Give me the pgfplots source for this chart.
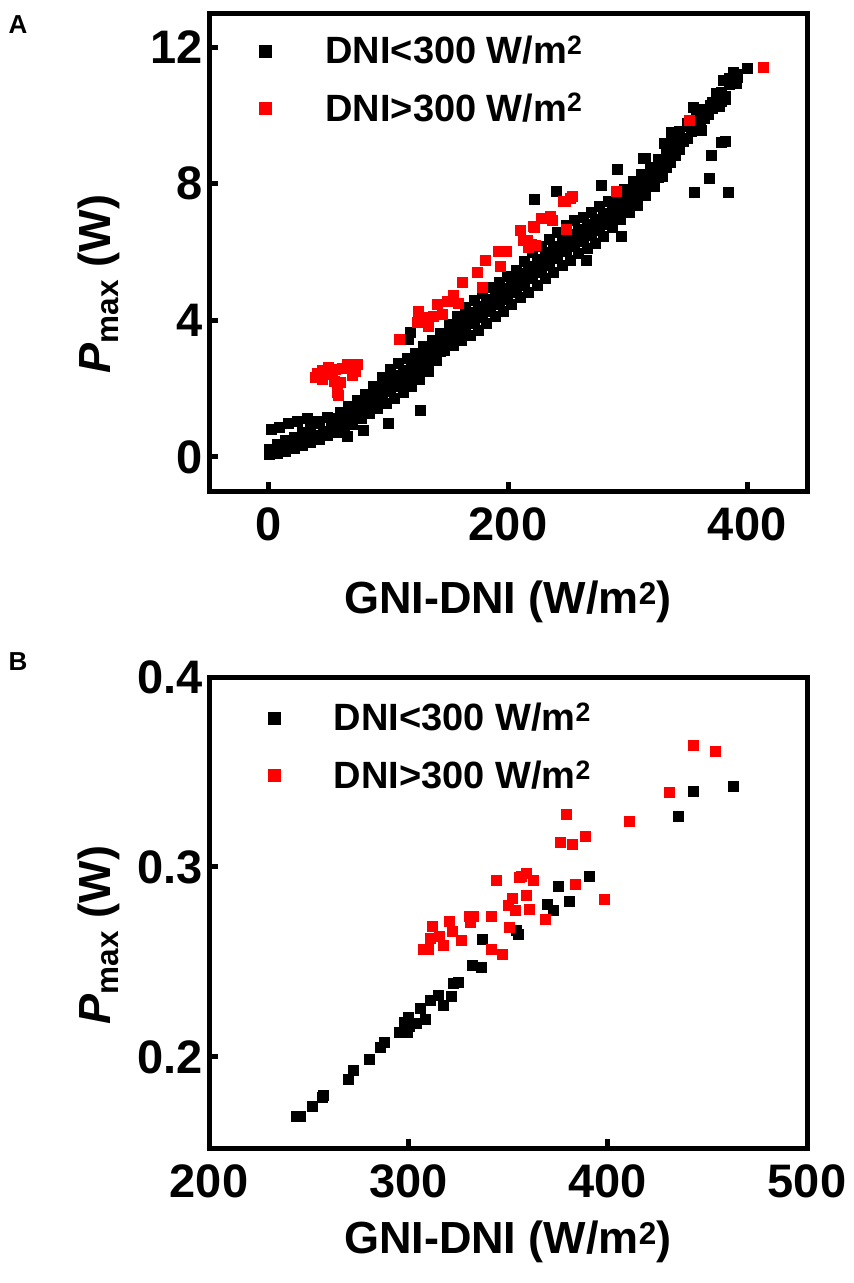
\documentclass[border=0pt]{standalone}
\usepackage{fontspec}
\setmainfont{Liberation Sans}
\usepackage{pgfplots}
\pgfplotsset{compat=1.18}

\pgfplotstableread{
x y
0 0.07
3.5 0.15
0 0.23
7 0.12
10.5 0.25
7 0.38
14 0.17
17.5 0.33
14 0.48
21 0.24
24.5 0.41
21 0.58
28 0.34
31.5 0.53
28 0.73
35 0.42
38.5 0.62
35 0.83
42 0.52
45.5 0.75
42 0.98
49 0.62
52.5 0.89
49 1.16
56 0.72
59.5 0.90
56 1.12
59.5 1.30
63 0.84
66.5 1.05
63 1.27
66.5 1.48
70 0.97
73.5 1.19
70 1.44
73.5 1.66
77 1.12
80.5 1.35
77 1.60
80.5 1.83
84 1.27
87.5 1.54
84 1.81
87.5 2.08
91 1.42
94.5 1.73
91 2.02
94.5 2.33
98 1.57
101.5 1.91
98 2.24
101.5 2.58
105 1.72
108.5 2.06
105 2.39
108.5 2.73
112 1.90
115.5 2.23
112 2.55
115.5 2.88
119 2.07
122.5 2.39
119 2.71
122.5 3.03
126 2.27
129.5 2.59
126 2.91
129.5 3.23
133 2.52
136.5 2.83
133 3.12
136.5 3.43
140 2.82
143.5 3.09
140 3.36
143.5 3.63
147 3.12
150.5 3.37
147 3.63
150.5 3.88
154 3.27
157.5 3.56
154 3.84
157.5 4.13
161 3.42
164.5 3.74
161 4.06
164.5 4.38
168 3.57
171.5 3.91
168 4.24
171.5 4.58
175 3.72
178.5 4.08
175 4.42
178.5 4.78
182 3.92
185.5 4.28
182 4.62
185.5 4.98
189 4.12
192.5 4.46
189 4.79
192.5 5.13
196 4.27
199.5 4.61
196 4.94
199.5 5.28
203 4.47
206.5 4.81
203 5.14
206.5 5.48
210 4.67
213.5 5.03
210 5.37
213.5 5.73
217 4.82
220.5 5.22
217 5.58
220.5 5.98
224 5.02
227.5 5.42
224 5.78
227.5 6.18
231 5.22
234.5 5.62
231 5.98
234.5 6.38
238 5.42
241.5 5.82
238 6.18
241.5 6.58
245 5.62
248.5 6.02
245 6.38
248.5 6.78
252 5.77
255.5 6.17
252 6.53
255.5 6.93
259 5.97
262.5 6.33
259 6.67
262.5 7.03
266 6.12
269.5 6.48
266 6.82
269.5 7.18
273 6.27
276.5 6.63
273 6.97
276.5 7.33
280 6.47
283.5 6.81
280 7.14
283.5 7.48
287 6.72
290.5 7.03
287 7.32
290.5 7.63
294 6.97
297.5 7.26
294 7.54
297.5 7.83
301 7.17
304.5 7.48
301 7.77
304.5 8.08
308 7.37
311.5 7.68
308 7.97
311.5 8.28
315 7.67
318.5 7.94
315 8.21
318.5 8.48
322 7.92
325.5 8.19
322 8.46
325.5 8.73
329 8.22
332.5 8.47
329 8.73
332.5 8.98
336 8.62
339.5 8.83
336 9.07
339.5 9.28
343 9.02
346.5 9.28
343 9.53
350 9.32
353.5 9.55
350 9.78
357 9.62
360.5 9.80
357 9.98
364 9.92
367.5 10.05
364 10.18
371 10.22
374.5 10.30
371 10.38
378 10.42
381.5 10.55
378 10.68
385 10.92
388.5 11.00
385 11.08
392 11.12
392 11.20
57.75 1.01
64.75 1.16
71.75 1.32
78.75 1.48
85.75 1.68
92.75 1.88
99.75 2.08
106.75 2.23
113.75 2.39
120.75 2.55
127.75 2.75
134.75 2.98
141.75 3.23
148.75 3.50
155.75 3.70
162.75 3.90
169.75 4.08
176.75 4.25
183.75 4.45
190.75 4.63
197.75 4.78
204.75 4.98
211.75 5.20
218.75 5.40
225.75 5.60
232.75 5.80
239.75 6.00
246.75 6.20
253.75 6.35
260.75 6.50
267.75 6.65
274.75 6.80
281.75 6.98
288.75 7.18
295.75 7.40
302.75 7.63
309.75 7.83
316.75 8.08
323.75 8.33
330.75 8.60
337.75 8.95
2 0.80
9 0.88
16 0.98
24 1.05
32 1.12
40 1.05
65.4 0.61
79.3 0.78
100 1.00
126.6 1.38
116.9 3.45
118 3.66
222 7.55
240 7.78
278 7.97
291 8.42
294.4 6.46
265.2 5.76
313 8.75
336.7 9.52
354.8 10.25
368.7 10.30
376.2 10.27
374.3 10.64
379.8 11.03
388 11.27
391 10.93
381.2 10.47
399.8 11.37
360.4 9.88
361.8 9.57
351.4 9.69
346.4 9.26
331 9.18
335.3 8.70
314.4 8.75
370 8.84
368 8.16
355.3 7.74
384 7.74
378.5 9.23
382 9.26
}\lowA

\pgfplotstableread{
x y
39 2.33
50 2.62
65.4 2.72
73.8 2.72
69.6 2.38
59.8 2.19
57.1 1.90
54.3 2.23
44.6 2.28
40.4 2.46
55.7 2.57
61.3 2.59
70.4 2.56
52.9 2.43
58.4 1.80
45 2.55
72 2.50
109.4 3.45
125.2 4.27
123.9 3.94
128 4.00
130 4.10
133.6 3.84
137.7 4.13
144.7 4.18
140.6 4.47
148.9 4.57
154.4 4.73
158.6 4.49
161.9 5.13
178.1 4.96
174 5.41
181.1 5.76
192 6.02
198.4 6.02
193.4 5.57
210.1 6.64
212.4 6.36
217 6.15
222.6 6.19
222 6.73
229 7.00
236.6 6.93
248.5 6.66
247.7 7.48
253.3 7.63
228 7.00
246 7.48
251.8 7.58
221 6.77
215.7 6.36
219.8 6.22
235 7.04
290.5 7.77
351.3 9.85
413.2 11.42
}\highA

\pgfplotstableread{
x y
243.5 0.169
245.7 0.169
251.8 0.174
256.8 0.179
257.5 0.180
269.7 0.188
272.3 0.193
280.2 0.199
285.7 0.205
287.7 0.2075
295.2 0.213
299.3 0.213
298 0.2185
299.7 0.221
300.5 0.216
304 0.2176
306 0.2255
308.5 0.220
311 0.2298
315.2 0.2325
317.7 0.2272
321.3 0.2319
322.7 0.2386
325.2 0.2394
331.8 0.2482
336.8 0.247
337.2 0.2618
355.2 0.2648
354 0.2668
369.7 0.2805
372.7 0.2773
375.2 0.290
380.7 0.2822
390.7 0.2953
435.2 0.3267
442.9 0.3398
463.1 0.3424
}\lowB

\pgfplotstableread{
x y
442.9 0.3642
453.7 0.3611
430.8 0.3393
410.6 0.3241
379.3 0.3279
376.2 0.3131
382 0.3122
388.7 0.3162
344 0.2932
355.7 0.2948
359 0.2965
362.7 0.293
356.4 0.2953
383.5 0.291
398.2 0.2831
352.2 0.2834
359 0.2853
350.2 0.2796
353.8 0.277
360.7 0.2778
368.5 0.2726
341.5 0.2743
330.7 0.2738
332.7 0.2738
331 0.2708
350.7 0.2682
320.5 0.2712
322.2 0.266
312.2 0.2686
311 0.2627
315.7 0.2634
317.3 0.259
326.5 0.2613
307.3 0.2565
310.2 0.2565
341.8 0.2569
347.2 0.2538
}\highB

\begin{document}
\begin{tikzpicture}
\pgfplotsset{
  panel/.style={
    scale only axis, width=598pt,
    axis line style={line width=5pt, line cap=rect},
    tick style={line width=5pt, black},
    major tick length=9pt,
    tick align=inside,
    xtick pos=bottom, ytick pos=left,
    tick label style={font=\fontsize{47}{50}\selectfont\bfseries},
    xticklabel style={yshift=-13pt},
    yticklabel style={xshift=-3pt},
    /pgf/number format/assume math mode=true,
    label style={font=\fontsize{45}{50}\selectfont\bfseries},
    ylabel={\textit{P}\textsubscript{max} (W)},
    xlabel={GNI-DNI (W/m\textsuperscript{2})},
    legend image code/.code={\draw[#1, mark size=6pt] plot coordinates {(0pt,0pt)};},
    legend cell align=left,
    legend style={draw=none, fill=none, anchor=north west,
      font=\fontsize{38}{42}\selectfont\bfseries, row sep=24pt,
      /tikz/every odd column/.append style={column sep=52pt}},
  },
  lowpts/.style={only marks, mark=square*, mark size=5pt, black},
  highpts/.style={only marks, mark=square*, mark size=5pt, red, mark options={fill=red, draw=red}},
}
\path[use as bounding box] (0pt,0pt) rectangle (854pt,-1283pt);
\node[font=\fontsize{26}{28}\selectfont\bfseries] at (18pt,-25pt) {A};
\node[font=\fontsize{26}{28}\selectfont\bfseries] at (18pt,-662pt) {B};

\begin{axis}[panel, at={(209pt,-491pt)}, anchor=south west, height=478pt,
  xmin=-50, xmax=450, ymin=-1, ymax=13,
  xtick={0,200,400}, ytick={0,4,8,12},
  xlabel style={at={(axis description cs:0.5,-0.232)}, anchor=center},
  ylabel style={at={(axis description cs:-0.184,0.433)}, anchor=center},
  legend style={at={(axis description cs:0.079,0.960)}},
]
\addplot[lowpts] table {\lowA};
\addlegendentry{DNI<300 W/m\textsuperscript{2}}
\addplot[highpts] table {\highA};
\addlegendentry{DNI>300 W/m\textsuperscript{2}}
\end{axis}

\begin{axis}[panel, at={(209pt,-1148pt)}, anchor=south west, height=471pt,
  xmin=200, xmax=500, ymin=0.152, ymax=0.4,
  xtick={200,300,400,500}, ytick={0.2,0.3,0.4},
  yticklabel style={/pgf/number format/.cd, fixed, fixed zerofill, precision=1},
  xlabel style={at={(axis description cs:0.5,-0.2)}, anchor=center},
  ylabel style={at={(axis description cs:-0.184,0.452)}, anchor=center},
  legend style={at={(axis description cs:0.093,0.953)}},
]
\addplot[lowpts] table {\lowB};
\addlegendentry{DNI<300 W/m\textsuperscript{2}}
\addplot[highpts] table {\highB};
\addlegendentry{DNI>300 W/m\textsuperscript{2}}
\end{axis}
\end{tikzpicture}
\end{document}
